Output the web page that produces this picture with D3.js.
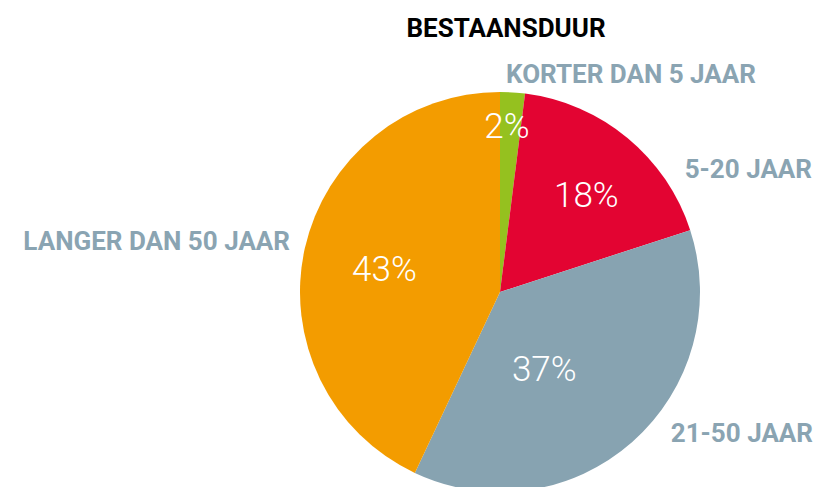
<!DOCTYPE html>
<html>
<head>
<meta charset="utf-8">
<script src="https://cdn.jsdelivr.net/npm/d3@7"></script>
<style>
  body { margin: 0; background: #fff; }
  svg text { font-family: Roboto, "Noto Sans", sans-serif; }
</style>
</head>
<body>
<div id="chart"></div>
<script>
// data
var categories = ["KORTER DAN 5 JAAR", "5-20 JAAR", "21-50 JAAR", "LANGER DAN 50 JAAR"];
var values = [2, 18, 37, 43];
var colors = ["#95c11f", "#e30432", "#87a3b1", "#f39c00"];
var title = "BESTAANSDUUR";

// layout
var width = 818, height = 487;
var cx = 500, cy = 292, radius = 200;
// percentage label placement: [angle in degrees, distance from centre]
var pctPos = [[2.4, 167], [41.6, 130], [149.8, 88], [281.7, 118]];
// category label placement: [x, y, anchor]
var catPos = [[506, 83, "start"], [812, 178, "end"], [813, 442, "end"], [290, 250, "end"]];

var svg = d3.select("#chart").append("svg")
    .attr("width", width)
    .attr("height", height);

var pie = d3.pie().sort(null).value(function(d) { return d; });
var arc = d3.arc().innerRadius(0).outerRadius(radius);

var g = svg.append("g")
    .attr("transform", "translate(" + cx + "," + cy + ")");

var arcs = pie(values);

g.selectAll("path")
    .data(arcs)
  .enter().append("path")
    .attr("d", arc)
    .attr("fill", function(d, i) { return colors[i]; });

g.selectAll(".pct")
    .data(arcs)
  .enter().append("text")
    .attr("class", "pct")
    .attr("transform", function(d, i) {
      var p = d3.pointRadial(pctPos[i][0] * Math.PI / 180, pctPos[i][1]);
      return "translate(" + p[0] + "," + p[1] + ")";
    })
    .attr("text-anchor", "middle")
    .attr("dy", "0.36em")
    .attr("fill", "#fff")
    .style("font-size", "35px")
    .style("font-weight", 300)
    .text(function(d) { return d.value + "%"; });

svg.append("text")
    .attr("x", 506)
    .attr("y", 37)
    .attr("text-anchor", "middle")
    .attr("fill", "#000")
    .style("font-size", "26px")
    .style("font-weight", 700)
    .text(title);

svg.selectAll(".cat")
    .data(categories)
  .enter().append("text")
    .attr("class", "cat")
    .attr("x", function(d, i) { return catPos[i][0]; })
    .attr("y", function(d, i) { return catPos[i][1]; })
    .attr("text-anchor", function(d, i) { return catPos[i][2]; })
    .attr("fill", "#8aa4b2")
    .style("font-size", "26px")
    .style("font-weight", 700)
    .text(function(d) { return d; });
</script>
</body>
</html>
